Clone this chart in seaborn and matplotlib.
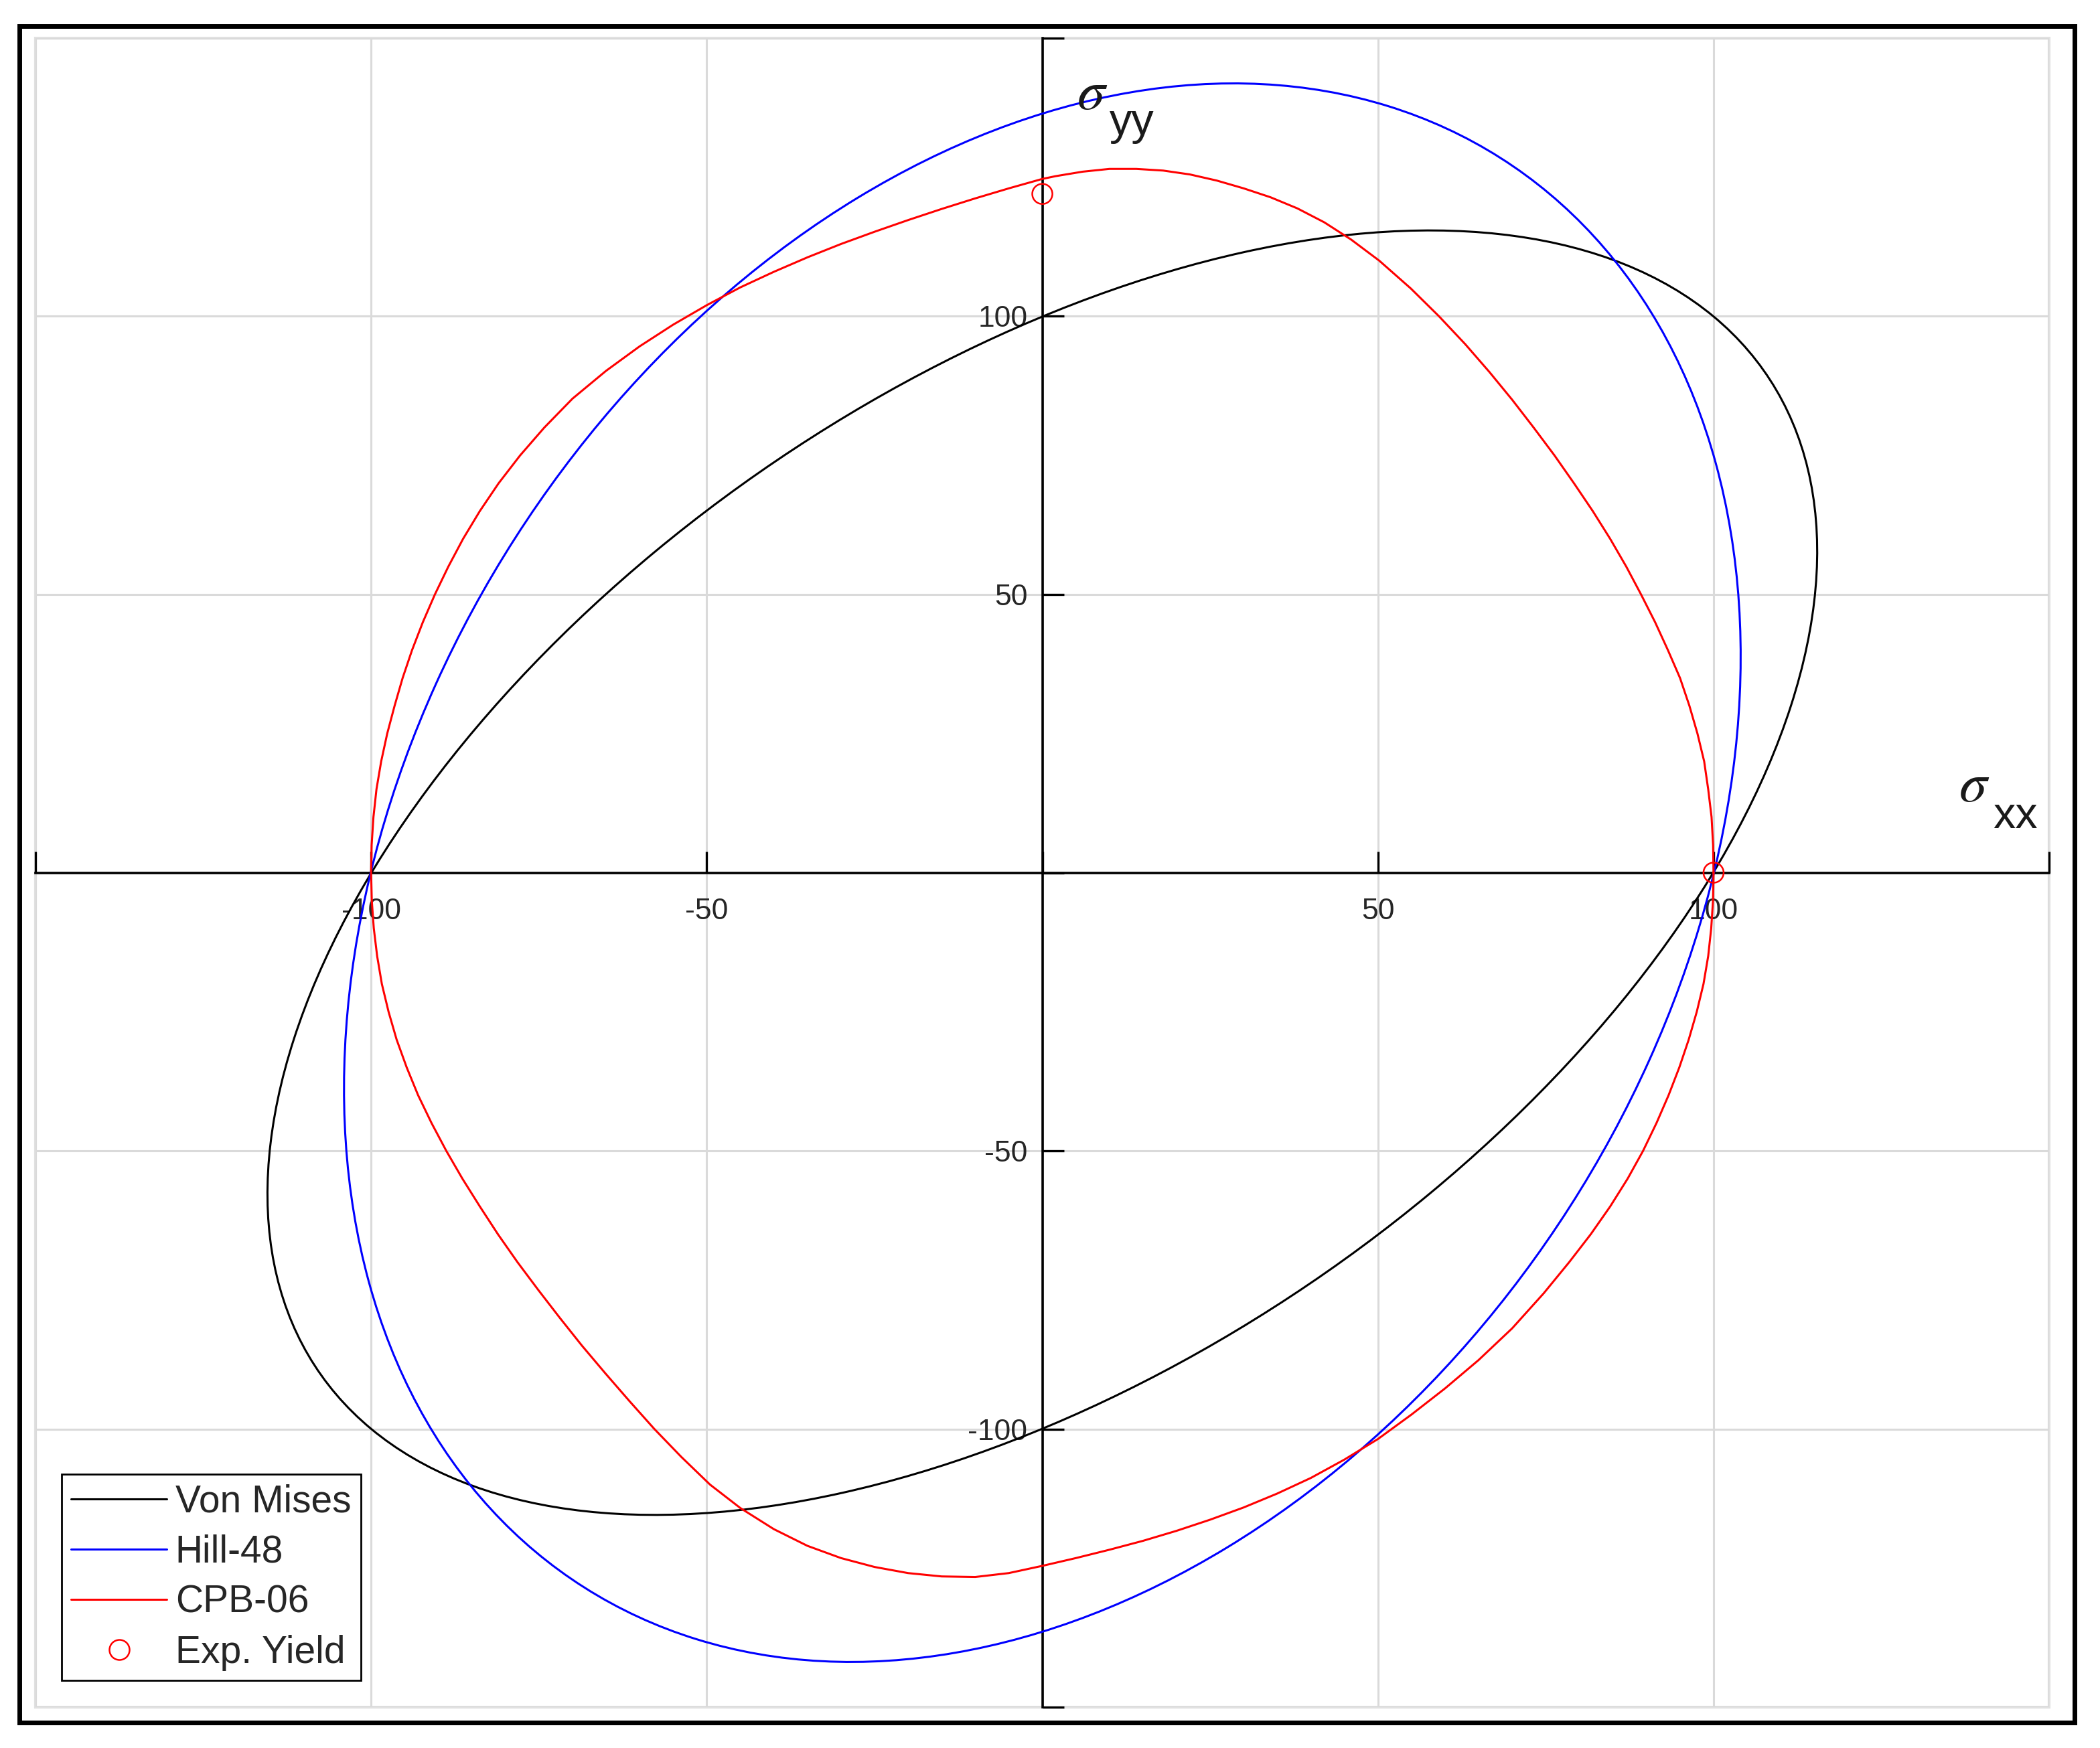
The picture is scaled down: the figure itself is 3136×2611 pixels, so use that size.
import numpy as np
import pandas as pd
import seaborn as sns
import matplotlib as mpl
mpl.use('Agg')
import matplotlib.pyplot as plt
from matplotlib.patches import Ellipse, Rectangle
from matplotlib.lines import Line2D

# elliptic yield loci (Von Mises, Hill-48): semi axes and tilt
ell_labels = ['Von Mises', 'Hill-48']
ell_major = [141.4, 147.1]
ell_minor = [81.6, 96.5]
ell_tilt = [45.0, 69.5]

# CPB-06 locus, counter-clockwise starting at (100, 0)
cpb_sxx = [100.0, 99.93, 99.7, 99.2, 98.6, 97.6, 96.4, 95.0, 93.2, 91.3,
           89.2, 87.0, 84.6, 82.0, 79.2, 76.3, 73.2, 70.0, 66.6, 63.0,
           59.1, 54.9, 50.2, 46.0, 42.0, 38.0, 34.0, 30.0, 26.0, 22.0,
           18.0, 14.0, 10.0, 6.0, 2.0, 0.0,
           -5.0, -10.0, -15.0, -20.0, -25.0, -30.0, -35.0, -40.0, -45.0, -50.0,
           -55.0, -60.0, -65.0, -70.0, -74.2, -77.8, -81.0, -83.8, -86.3, -88.5,
           -90.5, -92.3, -93.9, -95.3, -96.5, -97.6, -98.5, -99.2, -99.65, -99.92,
           -100.0,
           -99.9, -99.6, -99.1, -98.4, -97.4, -96.2, -94.7, -93.0, -91.0, -88.8,
           -86.4, -83.8, -81.1, -78.2, -75.1, -71.9, -68.6, -65.1, -61.5, -57.8,
           -53.8, -49.5, -45.0, -40.0, -35.0, -30.0, -25.0, -20.0, -15.0, -10.0,
           -5.0, 0.0,
           5.0, 10.0, 15.0, 20.0, 25.0, 30.0, 35.0, 40.0, 45.0, 50.0,
           55.0, 60.0, 65.0, 70.0, 74.7, 78.5, 81.7, 84.6, 87.2,
           89.5, 91.5, 93.3, 94.9, 96.3, 97.5, 98.5, 99.2, 99.65, 99.92,
           100.0]
cpb_syy = [0.0, 5.0, 10.0, 15.0, 20.0, 25.0, 30.0, 35.0, 40.0, 45.0,
           50.0, 55.0, 60.0, 65.0, 70.0, 75.0, 80.0, 85.0, 90.0, 95.0,
           100.0, 105.0, 110.0, 113.8, 116.9, 119.4, 121.4, 123.0, 124.4, 125.5,
           126.2, 126.5, 126.5, 126.0, 125.2, 124.7,
           123.0, 121.2, 119.3, 117.3, 115.2, 113.0, 110.6, 108.0, 105.2, 102.0,
           98.5, 94.6, 90.2, 85.2, 80.0, 75.0, 70.0, 65.0, 60.0, 55.0,
           50.0, 45.0, 40.0, 35.0, 30.0, 25.0, 20.0, 15.0, 10.0, 5.0,
           0.0,
           -5.0, -10.0, -15.0, -20.0, -25.0, -30.0, -35.0, -40.0, -45.0, -50.0,
           -55.0, -60.0, -65.0, -70.0, -75.0, -80.0, -85.0, -90.0, -95.0, -100.0,
           -105.0, -110.0, -114.2, -118.0, -121.0, -123.2, -124.8, -125.9, -126.5, -126.6,
           -125.9, -124.6,
           -123.2, -121.7, -120.1, -118.3, -116.3, -114.1, -111.6, -108.8, -105.5, -101.8,
           -97.4, -92.7, -87.6, -81.9, -75.6, -70.0, -65.0, -60.0, -55.0,
           -50.0, -45.0, -40.0, -35.0, -30.0, -25.0, -20.0, -15.0, -10.0, -5.0,
           0.0]

# experimental yield points
exp_sxx = [0.0, 100.0]
exp_syy = [122.0, 0.0]

tick_vals = [-150, -100, -50, 0, 50, 100, 150]
tick_text = ['', '-100', '-50', '', '50', '100', '']

ell_colors = ['black', 'blue']
lw = 1.1

sns.set_style('white')
plt.rcParams['font.family'] = ['Liberation Sans', 'DejaVu Sans']
plt.rcParams['mathtext.fontset'] = 'stix'

fig = plt.figure(figsize=(15.68, 13.055), dpi=200)
ax = fig.add_axes([0.0169, 0.02336, 0.9589, 0.95481])

# yield loci
for lab, col, a, b, t in zip(ell_labels, ell_colors, ell_major, ell_minor, ell_tilt):
    ax.add_patch(Ellipse((0, 0), 2 * a, 2 * b, angle=t, fill=False,
                         ec=col, lw=lw, zorder=3))
sns.lineplot(x=cpb_sxx, y=cpb_syy, sort=False, estimator=None, color='red',
             lw=lw, ax=ax, zorder=3, solid_joinstyle='round')
sns.scatterplot(x=exp_sxx, y=exp_syy, marker='o', s=117, facecolor='none',
                edgecolor='red', linewidth=0.9, ax=ax, zorder=4)

# axes through the origin, matlab-like
ax.set_xlim(-150, 150)
ax.set_ylim(-150, 150)
ax.set_xticks(tick_vals, tick_text)
ax.set_yticks(tick_vals, tick_text)
ax.set_xlabel('')
ax.set_ylabel('')
ax.grid(True, color='#dadada', lw=1.1)
ax.set_axisbelow(True)
for s in ['top', 'right']:
    ax.spines[s].set_visible(False)
for s in ['left', 'bottom']:
    ax.spines[s].set_position(('data', 0))
    ax.spines[s].set_color('black')
    ax.spines[s].set_linewidth(1.3)
    ax.spines[s].set_zorder(2.5)
ax.tick_params(bottom=True, left=True, direction='in', length=11.5, width=1.2,
               color='black', labelsize=16, labelcolor='#262626')
ax.tick_params(axis='x', pad=13.5)
ax.tick_params(axis='y', pad=8)
ax.add_patch(Rectangle((0, 0), 1, 1, transform=ax.transAxes, fill=False,
                       ec='#e1e1e1', lw=1.5, clip_on=False, zorder=0.5))

# axis names
ax.text(136.5, 12.8, r'$\sigma$', fontsize=30, ha='left', va='baseline', color='#1a1a1a')
ax.text(141.6, 8.0, 'xx', fontsize=24, ha='left', va='baseline', color='#1a1a1a')
ax.text(5.1, 137.3, r'$\sigma$', fontsize=30, ha='left', va='baseline', color='#1a1a1a')
ax.text(10.0, 132.7, 'yy', fontsize=24, ha='left', va='baseline', color='#1a1a1a')

# legend
handles = [Line2D([], [], color='black', lw=lw),
           Line2D([], [], color='blue', lw=lw),
           Line2D([], [], color='red', lw=lw),
           Line2D([], [], ls='none', marker='o', mfc='none', mec='red', ms=10.8, mew=0.9)]
labels = ell_labels + ['CPB-06', 'Exp. Yield']
leg = ax.legend(handles, labels, loc='lower left', bbox_to_anchor=(0.013, 0.016),
                borderaxespad=0, fontsize=20.5, handlelength=2.5, handletextpad=0.23,
                borderpad=0.25, labelspacing=0.37, frameon=True, fancybox=False,
                edgecolor='black', framealpha=1)
leg.get_frame().set_linewidth(1.0)
leg.set_zorder(5)

# outer frame round the figure
fig.add_artist(Rectangle((0.00909, 0.01455), 0.97879, 0.9707, transform=fig.transFigure,
                         fill=False, ec='black', lw=2.5))

fig.savefig('out.png', dpi=200)
